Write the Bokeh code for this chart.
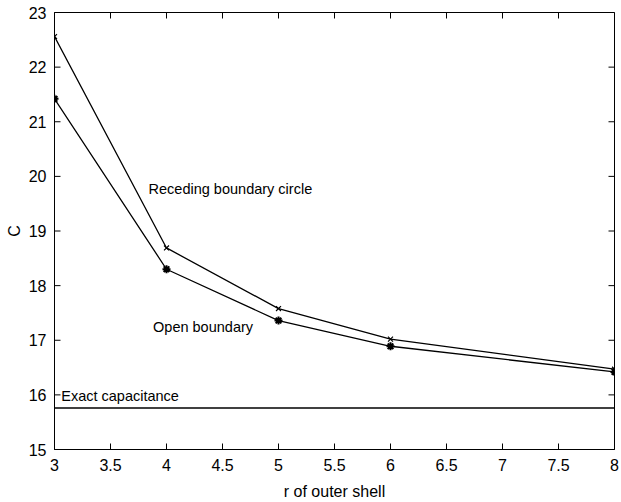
import math
from bokeh.plotting import figure
from bokeh.models import Range1d, Label, FixedTicker
from bokeh.embed import file_html
from bokeh.resources import INLINE

r_outer = [3, 4, 5, 6, 8]
receding = [22.56, 18.69, 17.58, 17.02, 16.47]
open_bnd = [21.42, 18.30, 17.36, 16.89, 16.42]
exact_c = 15.76
x_ticks = [3, 3.5, 4, 4.5, 5, 5.5, 6, 6.5, 7, 7.5, 8]
y_ticks = [15, 16, 17, 18, 19, 20, 21, 22, 23]
x_min, x_max = 3, 8
y_min, y_max = 15, 23

FONT = "Liberation Sans"

p = figure(width=621, height=502, output_backend="svg", toolbar_location=None,
           x_range=Range1d(x_min, x_max), y_range=Range1d(y_min, y_max),
           min_border_left=54, min_border_right=7, min_border_top=12, min_border_bottom=50)
p.grid.visible = False
p.outline_line_color = "black"
p.outline_line_width = 1
p.background_fill_color = "white"
p.border_fill_color = "white"

for ax, ticks in ((p.xaxis[0], x_ticks), (p.yaxis[0], y_ticks)):
    ax.ticker = FixedTicker(ticks=ticks)
    ax.major_tick_in = 0
    ax.major_tick_out = 0
    ax.minor_tick_line_color = None
    ax.axis_line_color = "black"
    ax.major_label_text_font = FONT
    ax.major_label_text_font_size = "16px"
    ax.major_label_text_color = "black"
    ax.axis_label_text_font = FONT
    ax.axis_label_text_font_size = "16px"
    ax.axis_label_text_font_style = "normal"
    ax.axis_label_text_color = "black"

p.xaxis.axis_label = "r of outer shell"
p.yaxis.axis_label = "C"
p.xaxis.major_label_standoff = 9
p.xaxis.axis_label_standoff = 9
p.yaxis.major_label_standoff = 8
p.yaxis.axis_label_standoff = 3

# inward ticks on all four sides (clipped to the frame, so only the inner half shows)
p.scatter([x_min] * len(y_ticks), y_ticks, marker="dash", size=12, line_color="black", line_width=1)
p.scatter([x_max] * len(y_ticks), y_ticks, marker="dash", size=12, line_color="black", line_width=1)
p.scatter(x_ticks, [y_min] * len(x_ticks), marker="dash", size=12, angle=math.pi / 2,
          line_color="black", line_width=1)
p.scatter(x_ticks, [y_max] * len(x_ticks), marker="dash", size=12, angle=math.pi / 2,
          line_color="black", line_width=1)

p.line(r_outer, receding, line_color="black", line_width=1.3)
p.scatter(r_outer, receding, marker="x", size=7, line_color="black", line_width=1.2)
p.line(r_outer, open_bnd, line_color="black", line_width=1.3)
p.scatter(r_outer, open_bnd, marker="asterisk", size=8, line_color="black", line_width=2)

p.line([x_min, x_max], [exact_c, exact_c], line_color="black", line_width=1.3)

for txt, x, y in (("Receding boundary circle", 3.84, 19.76),
                  ("Open boundary", 3.88, 17.24),
                  ("Exact capacitance", 3.06, 15.98)):
    p.add_layout(Label(x=x, y=y, text=txt, text_font=FONT, text_font_size="14.5px",
                       text_color="black", text_baseline="middle"))

open("out.html", "w").write(file_html(p, INLINE))
